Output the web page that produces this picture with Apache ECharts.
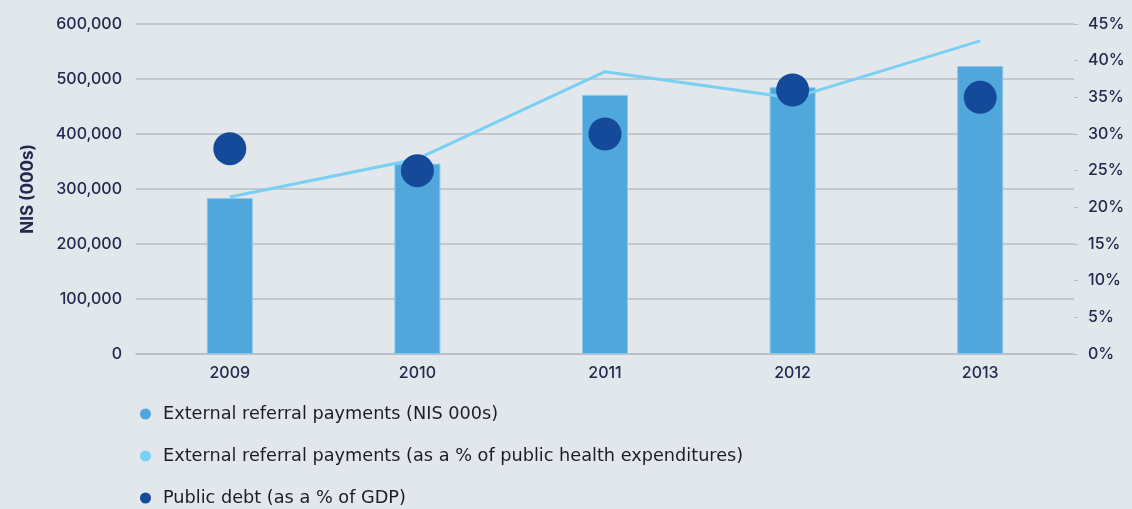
<!DOCTYPE html>
<html><head><meta charset="utf-8">
<script src="https://cdn.jsdelivr.net/npm/echarts@6/dist/echarts.min.js"></script>
<style>html,body{margin:0;padding:0;background:#E2E7EB;}#c{width:1132px;height:509px;}</style>
</head><body><div id="c"></div>
<script>
const categories = ['2009','2010','2011','2012','2013'];
const referralPayments = [283500, 346000, 471000, 485000, 523500];
const referralPctHealth = [21.4, 26.6, 38.5, 34.9, 42.7];
const publicDebtPctGDP = [28, 25, 30, 36, 35];
const leftTicks = {min:0, max:600000, interval:100000};
const rightTicks = {min:0, max:45, interval:5};

const navy = '#23294F';
const font = 'Inter';
const chart = echarts.init(document.getElementById('c'));
chart.setOption({
  backgroundColor:'#E2E7EB',
  textStyle:{fontFamily:font},
  grid:{left:136, right:58, top:24, bottom:155},
  legend:{
    orient:'vertical', left:140, top:404, itemGap:22, padding:0, height:120,
    icon:'circle', itemWidth:11, itemHeight:11,
    itemStyle:{borderWidth:0},
    textStyle:{color:'#1C1D2B', fontSize:17.7, fontFamily:'DejaVu Sans', lineHeight:20, padding:[0,0,0,7]},
    data:['External referral payments (NIS 000s)','External referral payments (as a % of public health expenditures)','Public debt (as a % of GDP)']
  },
  xAxis:{
    type:'category', data:categories,
    axisLine:{show:true, lineStyle:{color:'#B8BEC3', width:1.5}},
    axisTick:{show:false},
    axisLabel:{color:navy, fontSize:16, fontWeight:500, margin:11}
  },
  yAxis:[
    {type:'value', min:leftTicks.min, max:leftTicks.max, interval:leftTicks.interval,
     name:'NIS (000s)', nameLocation:'middle', nameGap:100, nameRotate:90,
     nameTextStyle:{color:navy, fontSize:17, fontWeight:'bold'},
     axisLine:{show:false}, axisTick:{show:false},
     axisLabel:{color:navy, fontSize:16, fontWeight:500, margin:14, formatter:v=>v.toLocaleString('en-US')},
     splitLine:{lineStyle:{color:'#B8BEC3', width:1.5}}},
    {type:'value', min:rightTicks.min, max:rightTicks.max, interval:rightTicks.interval,
     position:'right',
     axisLine:{show:false}, axisTick:{show:true, length:4, lineStyle:{color:'#B8BEC3'}},
     axisLabel:{color:navy, fontSize:16, fontWeight:500, margin:14, formatter:'{value}%'},
     splitLine:{show:false}}
  ],
  series:[
    {name:'External referral payments (NIS 000s)', type:'bar', data:referralPayments,
     barWidth:46, itemStyle:{color:'#4FA7DC', borderColor:'#8CC6EA', borderWidth:1}, z:2},
    {name:'External referral payments (as a % of public health expenditures)', type:'line',
     yAxisIndex:1, data:referralPctHealth, symbol:'none', showSymbol:false,
     itemStyle:{color:'#7ACFF5'}, lineStyle:{color:'#7ACFF5', width:3}, z:3},
    {name:'Public debt (as a % of GDP)', type:'scatter', yAxisIndex:1, data:publicDebtPctGDP,
     symbolSize:33, itemStyle:{color:'#154A9A', opacity:1}, z:4}
  ]
});
</script></body></html>
